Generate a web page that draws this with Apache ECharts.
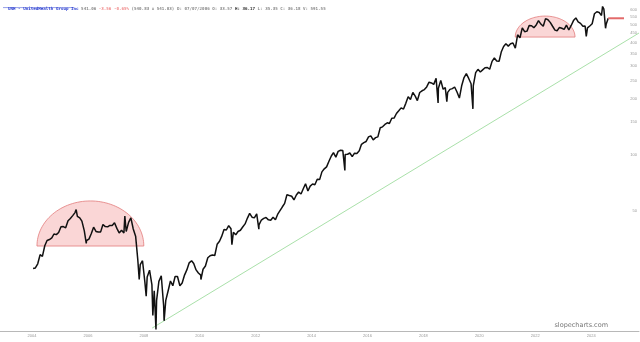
<!DOCTYPE html>
<html><head><meta charset="utf-8">
<script src="https://cdn.jsdelivr.net/npm/echarts@6/dist/echarts.min.js"></script>
<style>html,body{margin:0;padding:0;background:#fff}#c{width:640px;height:342px}</style>
</head><body><div id="c"></div>
<script>
// ---- monthly closes (adjusted), first month = 2004-06 ----
const firstYear = 2004, firstMonth = 6;
const c2004 = [24.6, 24.8, 26.1, 29.2, 28.6, 32.6, 34.8];
const c2005 = [35.2, 35.9, 37.7, 37.4, 38.4, 41.2, 41.3, 40.7, 44.4, 45.7, 47.3, 49.1];
const c2006 = [46.9, 46.0, 44.2, 39.3, 34.8, 35.4, 37.8, 41.0, 38.9, 38.6, 38.7, 42.4];
const c2007 = [41.3, 41.2, 41.9, 41.9, 43.3, 40.4, 38.2, 39.5, 38.2, 38.9, 43.5, 46.0];
const c2008 = [40.1, 36.7, 27.2, 25.8, 27.1, 20.8, 22.2, 24.1, 20.1, 18.7, 16.6, 21.0];
const c2009 = [22.5, 15.6, 16.6, 18.7, 21.1, 19.9, 22.3, 22.3, 19.9, 20.6, 22.7, 24.2];
const c2010 = [26.4, 27.1, 26.2, 24.2, 23.3, 22.7, 24.4, 25.4, 28.1, 28.8, 29.1, 28.9];
const c2011 = [33.2, 34.5, 36.6, 39.9, 39.6, 41.8, 40.2, 38.5, 37.3, 38.9, 39.5, 41.1];
const c2012 = [42.7, 45.9, 48.6, 46.4, 46.0, 48.3, 42.2, 44.8, 45.7, 46.2, 44.9, 44.7];
const c2013 = [46.4, 44.9, 48.0, 50.3, 52.6, 55.0, 61.2, 60.6, 60.1, 57.4, 61.0, 63.3];
const c2014 = [61.8, 66.1, 70.1, 64.1, 68.1, 69.9, 69.3, 74.1, 73.8, 81.2, 84.3, 86.4];
const c2015 = [92.5, 98.8, 102.9, 97.4, 104.6, 106.1, 105.6, 100.7, 100.9, 102.5, 98.0, 102.3];
const c2016 = [102.0, 105.4, 114.1, 116.6, 118.2, 125.0, 126.7, 120.4, 123.9, 125.1, 140.1, 141.6];
const c2017 = [145.9, 148.9, 147.6, 157.4, 157.7, 166.9, 172.6, 179.0, 176.3, 189.2, 205.4, 198.5];
const c2018 = [216.7, 206.9, 195.8, 216.3, 221.0, 224.4, 231.7, 245.7, 243.4, 239.2, 257.5, 227.9];
const c2019 = [251.3, 225.2, 230.0, 216.8, 224.9, 226.9, 231.6, 217.6, 202.1, 235.0, 260.3, 273.4];
const c2020 = [257.4, 241.0, 235.7, 276.4, 288.1, 278.8, 286.1, 293.7, 294.7, 288.3, 317.8, 331.4];
const c2021 = [319.6, 318.2, 356.5, 382.1, 394.6, 383.6, 394.9, 398.8, 374.3, 441.2, 425.5, 481.0];
const c2022 = [458.4, 461.6, 494.7, 493.3, 481.9, 498.2, 526.0, 503.7, 489.9, 538.5, 531.4, 514.3];
const c2023 = [490.2, 467.3, 464.1, 483.2, 478.4, 471.9, 497.3, 468.0, 495.1, 526.0, 542.9, 517.0];
const c2024 = [508.1, 490.1, 491.2, 480.3, 491.9, 505.7, 572.1, 586.1, 580.6, 560.5, 605.8, 502.4];
const yearlyCloses = [c2004, c2005, c2006, c2007, c2008, c2009, c2010, c2011, c2012, c2013, c2014,
  c2015, c2016, c2017, c2018, c2019, c2020, c2021, c2022, c2023, c2024];

// ---- intra-month extremes ----
const extraDates = ['2006-01-12', '2006-05-24', '2007-10-10', '2008-04-15', '2008-07-15', '2008-10-10',
  '2008-11-20', '2009-03-06', '2010-06-30', '2011-08-09', '2012-07-26', '2015-08-24', '2018-12-24',
  '2019-04-17', '2020-03-23', '2024-04-12', '2024-11-11', '2024-12-20', '2025-01-24'];
const extraValues = [51.0, 33.6, 47.0, 21.5, 17.5, 13.8,
  11.6, 12.9, 21.5, 33.0, 40.0, 82.7, 190.0,
  193.0, 176.7, 433.0, 626.0, 478.0, 541.06];

// ---- annotations ----
const domeStart = ['2004-08-18', '2021-09-27'];
const domeEnd = ['2008-06-14', '2023-11-17'];
const domeBase = [32.5, 429];
const domeTop = [56.7, 556];
const trendDates = ['2008-10-01', '2026-03-02'];
const trendValues = [11.8, 451];
const lastPrice = 541.06;
const priceLineEnd = '2025-08-18';

// ---- axes ----
const yTicks = [50, 100, 150, 200, 250, 300, 350, 400, 450, 500, 550, 600];
const xLabelDates = ['2004-06-15', '2006-06-15', '2008-06-15', '2010-06-15', '2012-06-15', '2014-06-15',
  '2016-06-15', '2018-06-15', '2020-06-15', '2022-06-15', '2024-06-15'];
const xLabelText = ['2004', '2006', '2008', '2010', '2012', '2014', '2016', '2018', '2020', '2022', '2024'];

// ---- build series data ----
const ts = s => Date.UTC(+s.slice(0, 4), +s.slice(5, 7) - 1, +s.slice(8, 10));
const pts = [];
yearlyCloses.forEach((arr, yi) => {
  const y = firstYear + yi;
  arr.forEach((v, mi) => {
    const m = (yi === 0 ? firstMonth : 1) + mi;
    pts.push([Date.UTC(y, m - 1, 28), v]);
  });
});
extraDates.forEach((d, i) => pts.push([ts(d), extraValues[i]]));
pts.sort((a, b) => a[0] - b[0]);
const priceData = pts.map(p => [p[0], Math.log(p[1])]);
const lastTs = ts(extraDates[extraDates.length - 1]);
const xLabelTs = xLabelDates.map(ts);

const domeData = domeStart.map((s, i) => [ts(s), ts(domeEnd[i]), Math.log(domeBase[i]), Math.log(domeTop[i])]);

const chart = echarts.init(document.getElementById('c'), null, {renderer: 'canvas'});
chart.setOption({
  animation: false,
  backgroundColor: '#fff',
  title: {
    left: 3, top: 2,
    text: '{a|UNH - UnitedHealth Group Inc} {b|541.06} {c|-3.56 -0.65%} {b|(540.83 x 541.03) D: 07/07/2006 O: 33.57} {d|H: 36.17} {b|L: 35.35 C: 36.18 V: 591.55}',
    textStyle: {
      fontSize: 4.2, fontFamily: 'DejaVu Sans Mono',
      rich: {
        a: {color: '#2b3fd1', fontSize: 4.2, fontFamily: 'DejaVu Sans Mono'},
        b: {color: '#8a8a8a', fontSize: 4.2, fontFamily: 'DejaVu Sans Mono'},
        c: {color: '#f08a8a', fontSize: 4.2, fontFamily: 'DejaVu Sans Mono'},
        d: {color: '#333', fontSize: 4.2, fontWeight: 'bold', fontFamily: 'DejaVu Sans Mono'}
      }
    }
  },
  graphic: [
    {type: 'line', shape: {x1: 3, y1: 7.6, x2: 74, y2: 7.6}, style: {stroke: '#2b3fd1', lineWidth: 0.5}},
    {type: 'text', right: 32, top: 322, style: {text: 'slopecharts.com', fill: '#777', font: '6.5px "DejaVu Sans"'}}
  ],
  grid: {left: 0, right: 0, top: 0, bottom: 11},
  xAxis: {
    type: 'value', min: ts('2003-04-23'), max: ts('2026-03-02'),
    axisLine: {lineStyle: {color: '#b8b8b8', width: 1}},
    axisTick: {show: false}, splitLine: {show: false},
    axisLabel: {
      customValues: xLabelTs, fontSize: 4, color: '#999', margin: 3,
      formatter: v => { const i = xLabelTs.indexOf(v); return i >= 0 ? xLabelText[i] : ''; }
    }
  },
  yAxis: {
    type: 'value', position: 'right', min: Math.log(11.38), max: Math.log(678),
    axisLine: {show: false}, axisTick: {show: false}, splitLine: {show: false},
    axisLabel: {
      inside: true, customValues: yTicks.map(Math.log), fontSize: 4, color: '#999', margin: 2,
      formatter: v => String(Math.round(Math.exp(v)))
    }
  },
  series: [
    {
      type: 'custom', z: 1, silent: true,
      data: domeData,
      renderItem: (params, api) => {
        const a = api.coord([api.value(0), api.value(2)]);
        const b = api.coord([api.value(1), api.value(2)]);
        const t = api.coord([(api.value(0) + api.value(1)) / 2, api.value(3)]);
        const cx = (a[0] + b[0]) / 2, cy = a[1], rx = (b[0] - a[0]) / 2, ry = a[1] - t[1];
        const points = [];
        for (let k = 0; k <= 64; k++) {
          const th = Math.PI * k / 64;
          points.push([cx - rx * Math.cos(th), cy - ry * Math.sin(th)]);
        }
        return {type: 'polygon', shape: {points}, style: {fill: 'rgba(240,120,120,0.3)', stroke: '#e27b7b', lineWidth: 0.8}};
      }
    },
    {
      type: 'line', z: 2, symbol: 'none', silent: true,
      data: trendDates.map((d, i) => [ts(d), Math.log(trendValues[i])]),
      lineStyle: {color: '#93d893', width: 0.8}
    },
    {
      type: 'line', z: 3, symbol: 'none', silent: true,
      data: priceData,
      lineStyle: {color: '#111', width: 1.5}
    },
    {
      type: 'line', z: 4, symbol: 'none', silent: true,
      data: [[lastTs, Math.log(lastPrice)], [ts(priceLineEnd), Math.log(lastPrice)]],
      lineStyle: {color: '#e36a6a', width: 2}
    }
  ]
});
</script>
</body></html>
